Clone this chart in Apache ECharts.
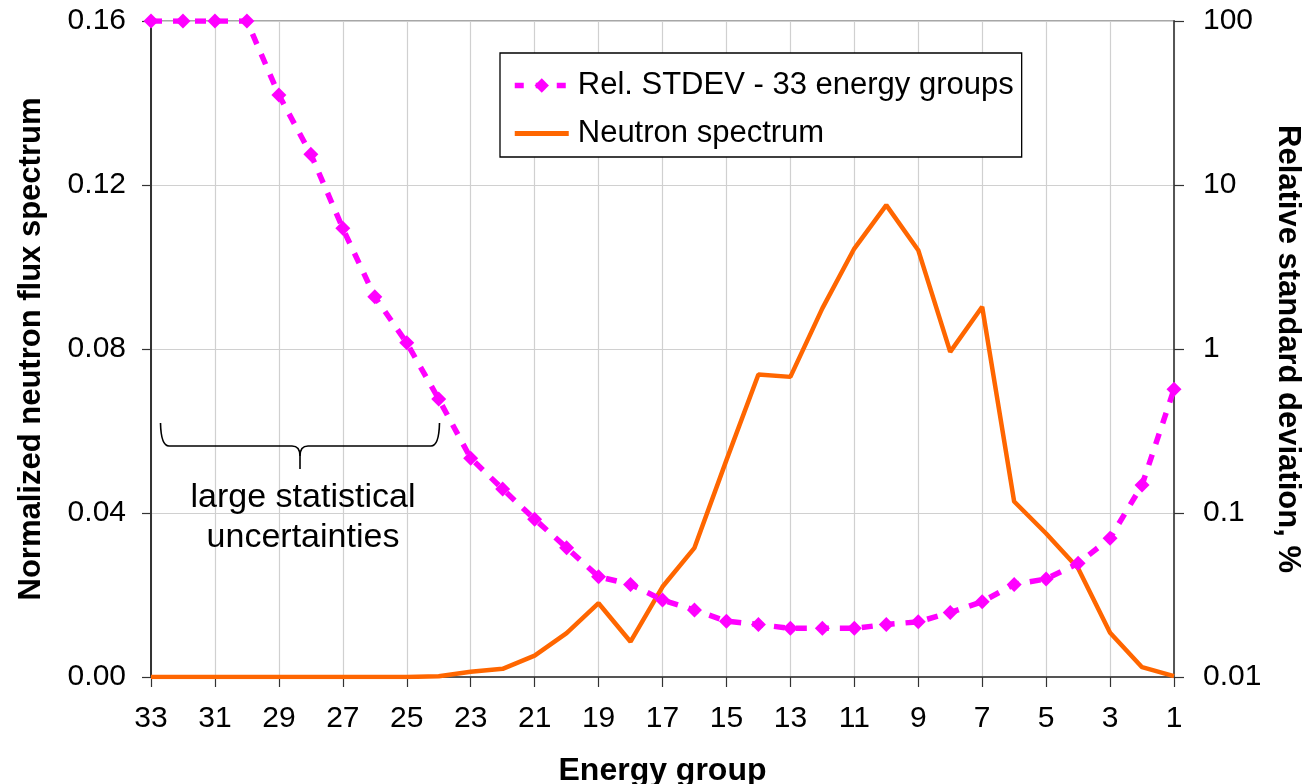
<!DOCTYPE html>
<html>
<head>
<meta charset="utf-8">
<script src="https://cdn.jsdelivr.net/npm/echarts@6/dist/echarts.min.js"></script>
<style>
  html, body { margin: 0; padding: 0; background: #fff; }
  #chart { width: 1305px; height: 784px; }
</style>
</head>
<body>
<div id="chart"></div>
<script>
// Energy groups, from high group number (left) to group 1 (right)
const groups = ['33','32','31','30','29','28','27','26','25','24','23','22','21','20','19','18','17',
                '16','15','14','13','12','11','10','9','8','7','6','5','4','3','2','1'];

// Normalized neutron flux spectrum per group (left axis)
const fluxSpectrum = [0, 0, 0, 0, 0, 0, 0, 0, 0, 0.0002, 0.0013, 0.0020, 0.0052, 0.0107, 0.0180, 0.0086, 0.0220,
                      0.0315, 0.0529, 0.0738, 0.0732, 0.0899, 0.1045, 0.1151, 0.1041, 0.0793, 0.0903, 0.0428, 0.0350,
                      0.0265, 0.0108, 0.0024, 0.0002];

// Relative standard deviation, % per group (right, logarithmic axis)
const relStdev = [100, 100, 100, 100, 35.4, 15.4, 5.44, 2.08, 1.09, 0.495, 0.216, 0.140, 0.0917, 0.0614, 0.0409, 0.0367, 0.0295,
                  0.0256, 0.0219, 0.0209, 0.0198, 0.0198, 0.0198, 0.0209, 0.0217, 0.0247, 0.0288, 0.0367, 0.0396,
                  0.0493, 0.0702, 0.148, 0.568];

const seriesNames = ['Rel. STDEV - 33 energy groups', 'Neutron spectrum'];
const xTitle = 'Energy group';
const leftTitle = 'Normalized neutron flux spectrum';
const rightTitle = 'Relative standard deviation, %';
const noteText = 'large statistical\nuncertainties';

const FONT = '"Liberation Sans", Arial, Helvetica, sans-serif';
const MAGENTA = '#ff00ff';
const ORANGE = '#ff6600';
const chart = echarts.init(document.getElementById('chart'), null, { renderer: 'canvas' });

// curly brace pieces (annotation)
const braceStyle = { fill: null, stroke: '#000', lineWidth: 1.6 };
const brace = [
  { type: 'bezierCurve', shape: { x1: 160.5, y1: 423, cpx1: 161, cpy1: 446, x2: 169, y2: 446 } },
  { type: 'line', shape: { x1: 169, y1: 446, x2: 292, y2: 446 } },
  { type: 'bezierCurve', shape: { x1: 292, y1: 446, cpx1: 300, cpy1: 446, x2: 300, y2: 456 } },
  { type: 'line', shape: { x1: 300, y1: 456, x2: 300, y2: 469 } },
  { type: 'bezierCurve', shape: { x1: 300, y1: 456, cpx1: 300, cpy1: 446, x2: 308, y2: 446 } },
  { type: 'line', shape: { x1: 308, y1: 446, x2: 431, y2: 446 } },
  { type: 'bezierCurve', shape: { x1: 431, y1: 446, cpx1: 439, cpy1: 446, x2: 439.5, y2: 423 } }
].map(el => Object.assign(el, { style: braceStyle, z: 10, silent: true }));

chart.setOption({
  animation: false,
  backgroundColor: '#ffffff',
  textStyle: { fontFamily: FONT, color: '#000' },
  grid: {
    left: 151, right: 131, top: 21, bottom: 107,
    outerBoundsMode: 'none',
    containLabel: false,
    show: true, borderColor: '#8a8a8a', borderWidth: 1.5, backgroundColor: 'transparent'
  },
  legend: {
    orient: 'vertical',
    left: 500, top: 53,
    width: 522,
    padding: [17, 8, 8, 12],
    itemGap: 17,
    itemWidth: 54, itemHeight: 18,
    borderColor: '#000', borderWidth: 1.3,
    backgroundColor: '#fff',
    textStyle: { fontFamily: FONT, fontSize: 31, color: '#000', padding: [0, 0, 0, 4] },
    data: [
      { name: seriesNames[0], lineStyle: { width: 5.5, type: [9, 12], color: MAGENTA } },
      { name: seriesNames[1], lineStyle: { width: 5, color: ORANGE }, itemStyle: { opacity: 0 } }
    ]
  },
  xAxis: {
    type: 'category',
    data: groups,
    boundaryGap: false,
    name: xTitle,
    nameLocation: 'middle',
    nameGap: 78,
    nameTextStyle: { fontFamily: FONT, fontSize: 32, fontWeight: 'bold', color: '#000' },
    axisLine: { lineStyle: { color: '#555', width: 2 } },
    axisTick: { show: true, interval: 1, length: 10, lineStyle: { color: '#333', width: 1.2 } },
    axisLabel: { interval: 1, margin: 27, fontSize: 30, color: '#000', fontFamily: FONT },
    splitLine: { show: true, interval: 1, lineStyle: { color: '#d0d0d0', width: 1.2 } }
  },
  yAxis: [
    {
      type: 'value',
      min: 0, max: 0.16, interval: 0.04,
      name: leftTitle,
      nameLocation: 'middle',
      nameGap: 104,
      nameTextStyle: { fontFamily: FONT, fontSize: 31, fontWeight: 'bold', color: '#000' },
      axisLine: { show: true, lineStyle: { color: '#333', width: 2 } },
      axisTick: { show: true, length: 9, lineStyle: { color: '#333', width: 1.2 } },
      axisLabel: { margin: 25, fontSize: 30, color: '#000', fontFamily: FONT,
                   formatter: v => v.toFixed(2) },
      splitLine: { show: true, lineStyle: { color: '#d0d0d0', width: 1.2 } }
    },
    {
      type: 'log',
      logBase: 10,
      min: 0.01, max: 100,
      position: 'right',
      name: rightTitle,
      nameLocation: 'middle',
      nameRotate: -90,
      nameGap: 96,
      nameTextStyle: { fontFamily: FONT, fontSize: 31, fontWeight: 'bold', color: '#000' },
      axisLine: { show: true, lineStyle: { color: '#555', width: 2 } },
      axisTick: { show: true, length: 10, lineStyle: { color: '#333', width: 1.2 } },
      axisLabel: { margin: 29, fontSize: 30, color: '#000', fontFamily: FONT,
                   formatter: v => String(+v.toPrecision(3)) },
      splitLine: { show: false }
    }
  ],
  series: [
    {
      name: seriesNames[0],
      type: 'line',
      yAxisIndex: 1,
      data: relStdev,
      symbol: 'diamond',
      symbolSize: 15,
      itemStyle: { color: MAGENTA },
      lineStyle: { color: MAGENTA, width: 5.5, type: [11, 11] },
      z: 3
    },
    {
      name: seriesNames[1],
      type: 'line',
      yAxisIndex: 0,
      data: fluxSpectrum,
      symbol: 'none',
      itemStyle: { color: ORANGE },
      lineStyle: { color: ORANGE, width: 4.5 },
      z: 2
    }
  ],
  graphic: brace.concat([
    {
      type: 'text',
      x: 303, y: 478,
      silent: true,
      style: {
        text: noteText,
        font: '34px ' + FONT,
        fill: '#000',
        textAlign: 'center',
        textVerticalAlign: 'top',
        lineHeight: 40
      },
      z: 10
    }
  ])
});
</script>
</body>
</html>
